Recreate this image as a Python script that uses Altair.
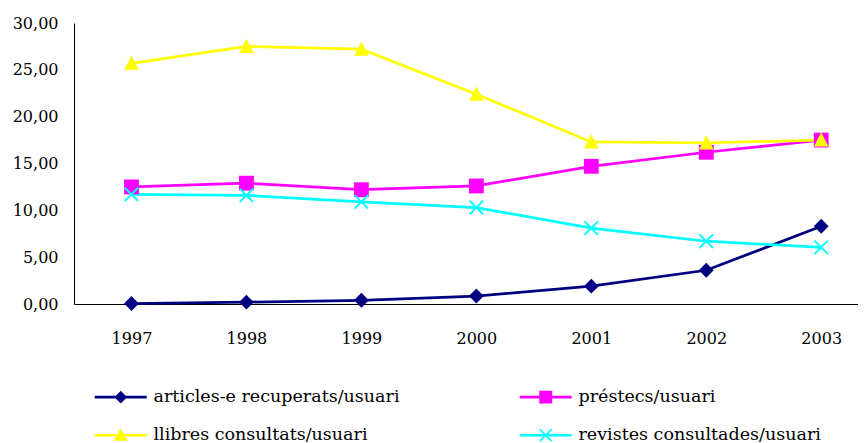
import altair as alt
import pandas as pd

years = [1997, 1998, 1999, 2000, 2001, 2002, 2003]
series_names = [
    "articles-e recuperats/usuari",
    "préstecs/usuari",
    "llibres consultats/usuari",
    "revistes consultades/usuari",
]
articles = [0.05, 0.2, 0.4, 0.85, 1.9, 3.6, 8.3]
prestecs = [12.5, 12.9, 12.2, 12.6, 14.7, 16.2, 17.5]
llibres = [25.7, 27.5, 27.2, 22.4, 17.3, 17.2, 17.5]
revistes = [11.7, 11.6, 10.9, 10.3, 8.1, 6.7, 6.05]
colors = ["#000080", "#FF00FF", "#FFFF00", "#00FFFF"]
y_ticks = [0, 5, 10, 15, 20, 25, 30]

# marker shapes (plot) and line+marker shapes (legend)
X = "M-0.82,-1L0,-0.18L0.82,-1L1,-0.82L0.18,0L1,0.82L0.82,1L0,0.18L-0.82,1L-1,0.82L-0.18,0L-1,-0.82Z"
X_LEG = "M-0.88,-1.08L0,-0.2L0.88,-1.08L1.08,-0.88L0.2,0L1.08,0.88L0.88,1.08L0,0.2L-0.88,1.08L-1.08,0.88L-0.2,0L-1.08,-0.88Z"
marker_paths = [
    "M0,-1L1,0L0,1L-1,0Z",
    "M-1,-1H1V1H-1Z",
    "M0,-1.05L0.98,0.88H-0.98Z",
    X,
]
LINE = "M-4.33,-0.22H4.33V0.22H-4.33Z "
legend_paths = [
    LINE + "M0,-1.05L1.05,0L0,1.05L-1.05,0Z",
    LINE + "M-1.08,-1.08H1.08V1.08H-1.08Z",
    LINE + "M0,-1.15L1.15,0.9H-1.15Z",
    LINE + X_LEG,
]

rows = []
for name, vals in zip(series_names, [articles, prestecs, llibres, revistes]):
    for yr, v in zip(years, vals):
        rows.append({"year": yr, "value": v, "serie": name, "serie_leg": name})
df = pd.DataFrame(rows)

FONT = "DejaVu Serif"

x_enc = alt.X(
    "year:Q",
    scale=alt.Scale(domain=[1996.5, 2003.32], nice=False, zero=False),
    axis=alt.Axis(
        values=years, format="d", title=None, ticks=False, tickSize=0,
        labelPadding=26, labelFlush=False, labelOverlap=False,
    ),
)
y_enc = alt.Y(
    "value:Q",
    scale=alt.Scale(domain=[0, 30], nice=False),
    axis=alt.Axis(
        values=y_ticks, title=None, ticks=False, tickSize=0, labelPadding=16,
        labelExpr="replace(format(datum.value, '.2f'), '.', ',')",
    ),
)

lines = alt.Chart(df).mark_line(strokeWidth=2.75).encode(
    x=x_enc, y=y_enc,
    color=alt.Color("serie:N", scale=alt.Scale(domain=series_names, range=colors), legend=None),
    order=alt.Order("year:Q"),
)

points = alt.Chart(df).mark_point(filled=True, opacity=1, size=220, strokeWidth=0).encode(
    x=x_enc, y=y_enc,
    color=alt.Color("serie:N", scale=alt.Scale(domain=series_names, range=colors), legend=None),
    shape=alt.Shape("serie:N", scale=alt.Scale(domain=series_names, range=marker_paths), legend=None),
)

leg = alt.Legend(
    title=None, orient="none", legendX=38, legendY=365, columns=2, direction="horizontal",
    symbolSize=144, symbolStrokeWidth=0, symbolOpacity=1,
    labelOffset=24, labelFont=FONT, labelFontSize=17.5, labelColor="black",
    columnPadding=119, rowPadding=19.5, padding=0, labelLimit=400,
)

legend_layer = alt.Chart(df).mark_point(filled=True, opacity=0, strokeWidth=0).encode(
    x=x_enc, y=y_enc,
    color=alt.Color("serie_leg:N", scale=alt.Scale(domain=series_names, range=colors), legend=leg),
    shape=alt.Shape("serie_leg:N", scale=alt.Scale(domain=series_names, range=legend_paths), legend=leg),
)

chart = alt.layer(lines, points, legend_layer).resolve_scale(
    color="independent", shape="independent"
).resolve_legend(
    color="independent", shape="independent"
).properties(
    width=784, height=281,
    autosize=alt.AutoSizeParams(type="none"),
    padding={"left": 66, "top": 15, "right": 0, "bottom": 148},
    background="white",
).configure_view(stroke=None).configure_axis(
    grid=False, domainColor="black", domainWidth=1,
    labelFont=FONT, labelFontSize=16, labelColor="black",
)

chart.save("out.html", embed_options={"renderer": "svg", "actions": False})
